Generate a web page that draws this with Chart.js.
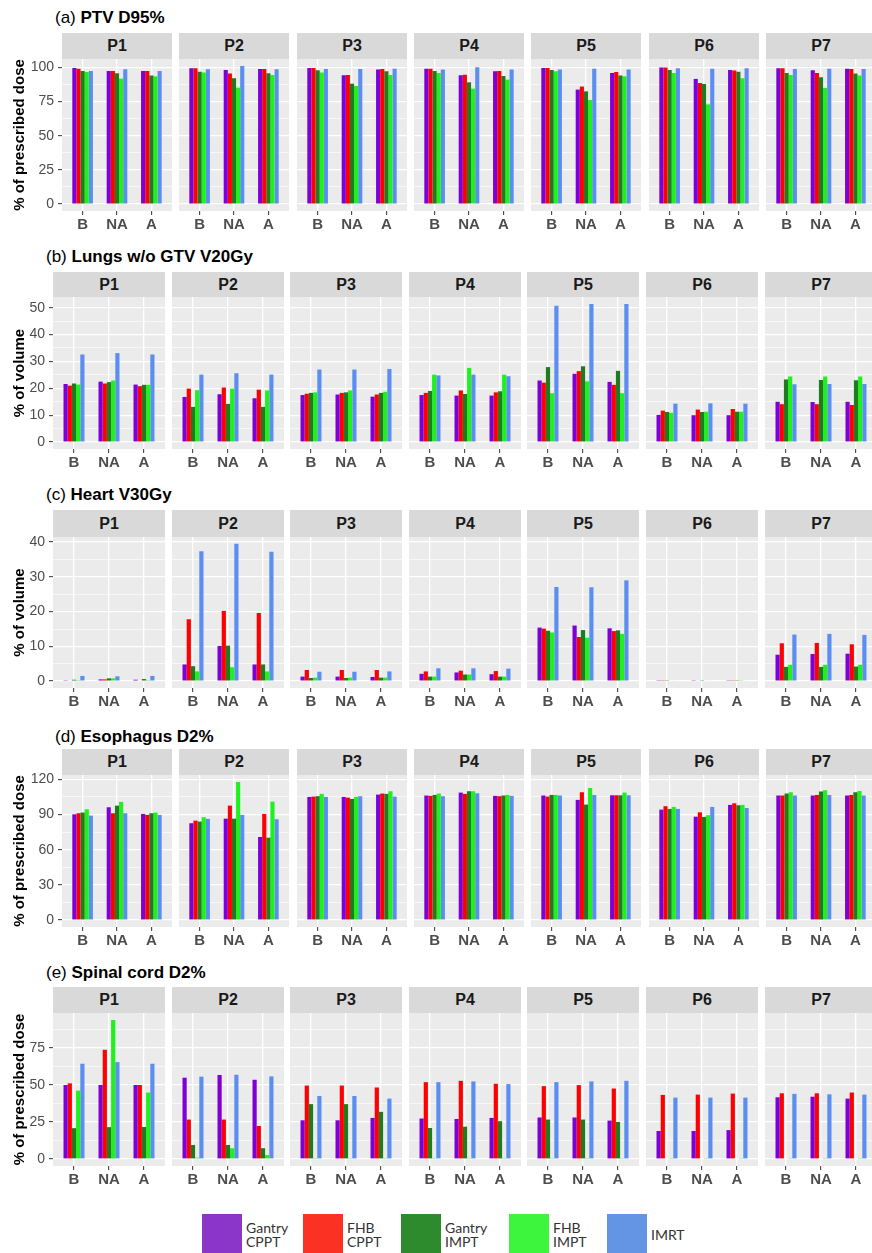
<!DOCTYPE html>
<html>
<head>
<meta charset="utf-8">
<script src="https://cdn.jsdelivr.net/npm/chart.js@4/dist/chart.umd.min.js"></script>
<style>
  body { margin: 0; background: #fff; width: 872px; height: 1253px; overflow: hidden; position: relative;
         font-family: "Liberation Sans", Arial, sans-serif; }
  .abs { position: absolute; }
  .title { font-size: 17px; line-height: 20px; color: #000; white-space: nowrap; }
  .strip { background: #d9d9d9; color: #1a1a1a; font-weight: bold; font-size: 16px;
           display: flex; align-items: center; justify-content: center; }
  .lgbox { position: absolute; width: 40px; height: 45px; }
  .lgtext { position: absolute; font-family: Lato, "Open Sans", sans-serif; font-size: 14px; line-height: 14px; color: #333; }
</style>
</head>
<body>
<script>
const patients = ['P1', 'P2', 'P3', 'P4', 'P5', 'P6', 'P7'];
const timepoints = ['B', 'NA', 'A'];
const techniques = ['Gantry CPPT', 'FHB CPPT', 'Gantry IMPT', 'FHB IMPT', 'IMRT'];
const barColors = ['#7e00d6', '#ff0000', '#1e7b1e', '#1ef21e', '#5b8ef0'];
const legendColors = ['#8b35c9', '#fb3123', '#2d8a2d', '#3df53d', '#6494e4'];

// values per patient -> [B, NA, A] -> [Gantry CPPT, FHB CPPT, Gantry IMPT, FHB IMPT, IMRT]
const ptvD95 = [
    [[99.5, 99, 97.3, 96.5, 97.3], [97.3, 97.3, 95.6, 91.7, 98.5], [97.3, 97.3, 93.9, 93.4, 97.3]],
    [[99.3, 99.3, 96.8, 96.1, 98.5], [98, 95.4, 92, 85.1, 101], [98.8, 98.8, 95.6, 94.4, 98.5]],
    [[99.5, 99.5, 97.8, 96.1, 98.8], [94.1, 94.4, 88, 86.3, 98.8], [98.3, 98.8, 97.1, 94.4, 99]],
    [[99, 99, 97.3, 95.9, 98.3], [94.1, 94.6, 89, 84.4, 100], [97.1, 97.3, 93.7, 91, 98.3]],
    [[99.5, 99.5, 98, 97.1, 98.3], [83.7, 85.9, 82.4, 76.1, 99], [95.9, 96.6, 93.9, 93.4, 98.3]],
    [[99.8, 99.8, 98, 95.9, 99.3], [91.5, 88.5, 87.8, 72.9, 99], [98, 97.6, 96.8, 92, 99.3]],
    [[99.3, 99.3, 95.9, 94.4, 98.8], [97.8, 95.9, 92.7, 84.9, 99], [99, 98.8, 95.4, 93.9, 98.8]]
];
const lungsV20 = [
    [[21.6, 21, 21.8, 21.4, 32.6], [22.5, 21.8, 22.3, 22.9, 33.1], [21.4, 20.8, 21.3, 21.3, 32.6]],
    [[16.8, 19.9, 13.1, 19.3, 25.1], [17.8, 20.3, 14.2, 19.9, 25.6], [16.3, 19.5, 13.1, 19.2, 25.1]],
    [[17.5, 18, 18.3, 18.5, 27], [17.7, 18.3, 18.5, 19.2, 27], [16.9, 17.7, 18.3, 18.7, 27.2]],
    [[17.5, 18.3, 19, 25.1, 24.8], [17.3, 19.2, 17.9, 27.6, 25.1], [17.3, 18.5, 18.9, 25.1, 24.5]],
    [[22.9, 22.1, 27.9, 18.2, 50.7], [25.4, 26.4, 28.2, 22.6, 51.4], [22.4, 21.3, 26.5, 18.2, 51.4]],
    [[10.1, 11.7, 11.2, 10.9, 14.3], [10, 12.1, 11.2, 11.3, 14.4], [10, 12.3, 11.3, 11.3, 14.3]],
    [[15, 14.1, 23.3, 24.4, 21.5], [14.9, 14.1, 23.1, 24.4, 21.6], [15, 13.8, 23, 24.4, 21.6]]
];
const heartV30 = [
    [[0.1, 0.2, 0.4, 0.3, 1.5], [0.5, 0.5, 0.8, 0.8, 1.4], [0.4, 0.2, 0.6, 0.3, 1.5]],
    [[4.8, 17.8, 4.3, 2.8, 37.4], [10.1, 20.2, 10.2, 4, 39.5], [4.8, 19.6, 4.8, 2.8, 37.2]],
    [[1.3, 3.2, 0.9, 1, 2.7], [1.3, 3.2, 0.9, 1, 2.7], [1.2, 3.2, 1, 1, 2.8]],
    [[2.1, 2.8, 1.3, 1.3, 3.7], [2.5, 3, 1.9, 1.9, 3.7], [2, 2.9, 1.3, 1.3, 3.6]],
    [[15.4, 15.1, 14.5, 14, 27.1], [16, 12.7, 14.7, 12.5, 27], [15.2, 14.4, 14.6, 13.6, 29]],
    [[0.1, 0.1, 0.1, 0.2, 0.2], [0.1, 0.2, 0.1, 0.2, 0.2], [0.1, 0.1, 0.1, 0.1, 0.2]],
    [[7.6, 10.9, 4.1, 4.7, 13.4], [7.8, 11, 4.1, 4.7, 13.6], [7.9, 10.6, 4.2, 4.7, 13.3]]
];
const esophagusD2 = [
    [[90.1, 91, 91.6, 94.4, 89], [96.1, 91, 97.5, 100.7, 91], [90.4, 89.6, 91, 91.6, 89.6]],
    [[82.5, 84.7, 83.9, 87.6, 86.2], [86.4, 97.5, 86.4, 117.7, 89.6], [70.8, 90.4, 70.2, 100.9, 85.9]],
    [[104.9, 105.2, 105.5, 107.5, 104.9], [104.9, 104.3, 103.2, 104.9, 105.5], [106.9, 107.8, 107.5, 109.8, 105.2]],
    [[106.1, 105.8, 106.6, 107.8, 105.5], [108.6, 107.5, 109.8, 109.8, 108], [105.8, 105.5, 106.1, 106.6, 105.8]],
    [[106.1, 105.2, 106.6, 106.6, 106.1], [102.4, 108.9, 98.4, 112.6, 106.6], [106.3, 106.3, 106.3, 108.6, 106.3]],
    [[94.1, 97, 94.7, 96.4, 94.7], [88.1, 91.8, 87.9, 89.3, 96.4], [98.1, 99.5, 97.8, 98.1, 95.5]],
    [[106.1, 106.1, 107.8, 108.9, 106.1], [106.1, 106.6, 109.5, 110.6, 106.6], [106.1, 106.6, 108.9, 110, 106.1]]
];
const cordD2 = [
    [[49.9, 51, 20.8, 46.1, 64.2], [49.9, 73.6, 21.5, 93.7, 65.3], [49.9, 49.9, 21.6, 44.8, 64.2]],
    [[54.8, 26.6, 9.5, 0.9, 55.5], [56.6, 26.6, 9.5, 7.3, 56.8], [53.4, 22.3, 7.3, 2.7, 55.7]],
    [[26.1, 49.5, 37, 0.2, 42.5], [26.1, 49.5, 37, 0.2, 42.5], [27.7, 48.2, 31.8, 0.2, 40.7]],
    [[27.3, 51.8, 20.9, 0.2, 51.8], [27, 52.7, 21.8, 0.2, 52.3], [27.7, 50.7, 25.5, 0.2, 50.5]],
    [[28, 49.1, 26.6, 0.2, 51.8], [28, 49.8, 26.6, 0.2, 52.3], [25.9, 47.5, 25, 0.2, 52.7]],
    [[18.9, 43.2, 0, 0.2, 41.4], [18.9, 43.4, 0, 0.2, 41.4], [19.5, 44.1, 0, 0.2, 41.4]],
    [[41.6, 44.3, 0, 0.2, 43.9], [42, 44.3, 0, 0.2, 43.6], [40.7, 44.8, 0, 0.2, 43.4]]
];

const ticksPtv = [0, 25, 50, 75, 100];
const ticksLungs = [0, 10, 20, 30, 40, 50];
const ticksHeart = [0, 10, 20, 30, 40];
const ticksEso = [0, 30, 60, 90, 120];
const ticksCord = [0, 25, 50, 75];

const FONT = '"Liberation Sans", Arial, sans-serif';
const LABEL_H = 30;
const TOP_PAD = 14;   // room for the top tick label so chart area starts at a known place

const rows = [
    { tag: '(a)', name: 'PTV D95%', yTitle: '% of prescribed dose', values: ptvD95, ticks: ticksPtv,
      titleTop: 8, stripTop: 33, top: 59, bottom: 211, x0: 62, step: 117.3, w: 110 },
    { tag: '(b)', name: 'Lungs w/o GTV V20Gy', yTitle: '% of volume', values: lungsV20, ticks: ticksLungs,
      titleTop: 247, stripTop: 272, top: 297, bottom: 449, x0: 53, step: 118.6, w: 112 },
    { tag: '(c)', name: 'Heart V30Gy', yTitle: '% of volume', values: heartV30, ticks: ticksHeart,
      titleTop: 485, stripTop: 510, top: 537, bottom: 688, x0: 53, step: 118.6, w: 112 },
    { tag: '(d)', name: 'Esophagus D2%', yTitle: '% of prescribed dose', values: esophagusD2, ticks: ticksEso,
      titleTop: 727, stripTop: 749, top: 775, bottom: 927, x0: 62, step: 117.3, w: 110 },
    { tag: '(e)', name: 'Spinal cord D2%', yTitle: '% of prescribed dose', values: cordD2, ticks: ticksCord,
      titleTop: 963, stripTop: 987, top: 1013, bottom: 1166, x0: 53, step: 118.6, w: 112 }
];

// grey panel background like ggplot
const panelBg = {
    id: 'panelBg',
    beforeDraw(chart) {
        const { ctx, chartArea: a } = chart;
        ctx.save();
        ctx.fillStyle = '#ebebeb';
        ctx.fillRect(a.left, a.top, a.right - a.left, a.bottom - a.top);
        ctx.restore();
    }
};

function place(el, left, top) {
    el.style.left = left + 'px';
    el.style.top = top + 'px';
    document.body.appendChild(el);
}

rows.forEach(row => {
    const t = document.createElement('div');
    t.className = 'abs title';
    t.innerHTML = row.tag + ' <b>' + row.name + '</b>';
    place(t, row.x0 - 7, row.titleTop);

    // ggplot style limits: 5% expansion of the data range
    const dataMax = Math.max(...row.values.flat(2));
    const yMin = -dataMax * 0.05;
    const yMax = dataMax * 1.05;
    const gap = row.ticks[1] - row.ticks[0];
    const minor = row.ticks.map(v => v + gap / 2).filter(v => v < yMax);
    const yTickVals = [...row.ticks, ...minor].sort((a, b) => a - b);
    const isMajor = v => row.ticks.includes(v);
    const panelH = row.bottom - row.top;

    patients.forEach((p, pi) => {
        const left = Math.round(row.x0 + pi * row.step);
        const first = pi === 0;

        const strip = document.createElement('div');
        strip.className = 'abs strip';
        strip.style.width = row.w + 'px';
        strip.style.height = (row.top - row.stripTop) + 'px';
        strip.textContent = p;
        place(strip, left, row.stripTop);

        const canvas = document.createElement('canvas');
        canvas.className = 'abs';
        canvas.width = first ? left + row.w : row.w;
        canvas.height = TOP_PAD + panelH + LABEL_H;
        place(canvas, first ? 0 : left, row.top - TOP_PAD);

        new Chart(canvas, {
            type: 'bar',
            data: {
                datasets: techniques.map((name, si) => ({
                    label: name,
                    data: timepoints.map((tp, ti) => ({ x: ti, y: row.values[pi][ti][si] })),
                    backgroundColor: barColors[si],
                    borderWidth: 0,
                    categoryPercentage: 0.6,
                    barPercentage: 1
                }))
            },
            options: {
                responsive: false,
                animation: false,
                devicePixelRatio: 1,
                layout: { padding: { top: TOP_PAD, left: 0, right: 0, bottom: 0 }, autoPadding: false },
                plugins: { legend: { display: false }, tooltip: { enabled: false } },
                scales: {
                    x: {
                        type: 'linear', min: -0.6, max: 2.6, offset: false,
                        afterBuildTicks: s => { s.ticks = timepoints.map((tp, i) => ({ value: i })); },
                        afterFit: s => { s.height = LABEL_H; },
                        ticks: {
                            callback: v => timepoints[v], autoSkip: false, maxRotation: 0, padding: 1,
                            color: '#4d4d4d', font: { family: FONT, size: 15, weight: 'bold' }
                        },
                        grid: { offset: false, color: '#ffffff', lineWidth: 1.3, drawTicks: true,
                                tickLength: 4, tickColor: '#333333', tickWidth: 1 },
                        border: { display: false }
                    },
                    y: {
                        min: yMin, max: yMax,
                        afterBuildTicks: s => { s.ticks = yTickVals.map(v => ({ value: v })); },
                        afterFit: s => { s.width = first ? left : 0; },
                        ticks: {
                            display: first, autoSkip: false, padding: 4,
                            callback: v => isMajor(v) ? v : '',
                            color: '#4d4d4d', font: { family: FONT, size: 14 }
                        },
                        grid: {
                            color: '#ffffff',
                            lineWidth: c => isMajor(c.tick.value) ? 1.3 : 0.6,
                            drawTicks: first, tickLength: 4, tickWidth: 1,
                            tickColor: c => isMajor(c.tick.value) ? '#333333' : 'rgba(0,0,0,0)'
                        },
                        border: { display: false },
                        title: {
                            display: first, text: row.yTitle, color: '#000',
                            font: { family: FONT, size: 15, weight: 'bold', lineHeight: 1.2 },
                            padding: { top: 11, bottom: 0 }
                        }
                    }
                }
            },
            plugins: [panelBg]
        });
    });
});

// legend drawn as separate boxes, two-line labels
const legendX = [202, 303, 401, 509, 607];
techniques.forEach((name, i) => {
    const box = document.createElement('div');
    box.className = 'lgbox';
    box.style.background = legendColors[i];
    place(box, legendX[i], 1214);
    const txt = document.createElement('div');
    txt.className = 'lgtext';
    const words = name.split(' ');
    txt.innerHTML = words.join('<br>');
    place(txt, legendX[i] + 44, words.length > 1 ? 1221 : 1228);
});
</script>
</body>
</html>
